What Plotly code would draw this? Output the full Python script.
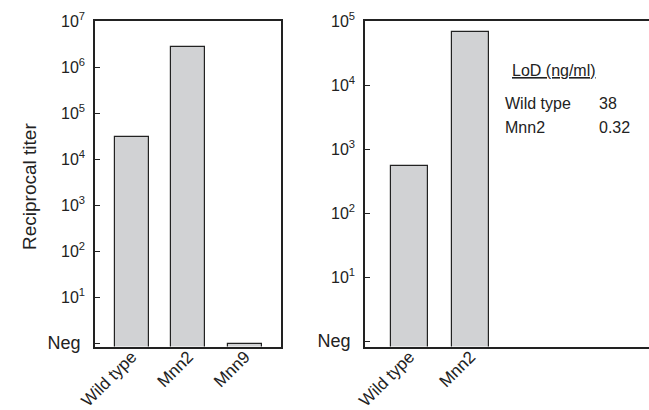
import plotly.graph_objects as go

# Reciprocal titers (Neg plotted at 1)
left_strains = ["Wild type", "Mnn2", "Mnn9"]
left_titers = [3.0e4, 2.7e6, 1.0]

right_strains = ["Wild type", "Mnn2"]
right_titers = [550, 6.7e4]

# Limit of detection table
lod_strains = ["Wild type", "Mnn2"]
lod_values = ["38", "0.32"]

NEG = "<span style='font-size:18px'>Neg</span>&nbsp;"
left_tickvals = [1, 1e1, 1e2, 1e3, 1e4, 1e5, 1e6, 1e7]
left_ticktext = [NEG, "10<sup>1</sup>", "10<sup>2</sup>", "10<sup>3</sup>",
                 "10<sup>4</sup>", "10<sup>5</sup>", "10<sup>6</sup>", "10<sup>7</sup>"]
right_tickvals = [1, 1e1, 1e2, 1e3, 1e4, 1e5]
right_ticktext = [NEG, "10<sup>1</sup>", "10<sup>2</sup>", "10<sup>3</sup>",
                  "10<sup>4</sup>", "10<sup>5</sup>"]

W, H = 649, 410
INK = "#222222"
BAR_FILL = "#d1d2d4"
FONT = "Arial, Liberation Sans, Helvetica, sans-serif"


def fx(p):
    return p / W


def fy(p):
    return 1 - p / H


fig = go.Figure()
fig.add_trace(go.Bar(x=left_strains, y=left_titers, width=0.6,
                     marker=dict(color=BAR_FILL, line=dict(color=INK, width=1.2)),
                     xaxis="x", yaxis="y", showlegend=False))
fig.add_trace(go.Bar(x=right_strains, y=right_titers, width=0.6,
                     marker=dict(color=BAR_FILL, line=dict(color=INK, width=1.2)),
                     xaxis="x2", yaxis="y2", showlegend=False))

line_common = dict(showline=True, linecolor=INK, linewidth=1.5, showgrid=False,
                   zeroline=False, automargin=False)
x_common = dict(ticks="", tickangle=-45, mirror=True, ticklabelstandoff=-8,
                tickfont=dict(family=FONT, size=17, color=INK), **line_common)
y_common = dict(type="log", ticks="inside", ticklen=5, tickwidth=1, tickcolor=INK,
                ticklabelstandoff=5,
                tickfont=dict(family=FONT, size=16, color=INK), **line_common)

fig.update_layout(
    width=W, height=H,
    margin=dict(l=0, r=0, t=0, b=0),
    paper_bgcolor="white", plot_bgcolor="white",
    font=dict(family=FONT, color=INK),
    bargap=0,
    xaxis=dict(domain=[fx(95), fx(281)], range=[-0.65, 2.64], anchor="y", **x_common),
    yaxis=dict(domain=[fy(346.5), fy(21)], range=[-0.065, 7],
               tickvals=left_tickvals, ticktext=left_ticktext,
               mirror=True, anchor="x", **y_common),
    xaxis2=dict(domain=[fx(365), 1.0], range=[-0.73, 3.93], anchor="y2", **x_common),
    yaxis2=dict(domain=[fy(346.5), fy(21)], range=[-0.08, 5],
                tickvals=right_tickvals, ticktext=right_ticktext,
                mirror=False, anchor="x2", **y_common),
)

annotations = [
    dict(text="Reciprocal titer", x=fx(30), y=fy(187), textangle=-90,
         font=dict(size=19, family=FONT, color=INK)),
    dict(text="<u>LoD (ng/ml)</u>", x=fx(510), y=fy(71), xanchor="left",
         font=dict(size=16, family=FONT, color=INK)),
]
row_y = [103, 127]
for name, val, yy in zip(lod_strains, lod_values, row_y):
    annotations.append(dict(text=name, x=fx(503), y=fy(yy), xanchor="left",
                            font=dict(size=16, family=FONT, color=INK)))
    annotations.append(dict(text=val, x=fx(597), y=fy(yy), xanchor="left",
                            font=dict(size=16, family=FONT, color=INK)))
for a in annotations:
    a.update(xref="paper", yref="paper", showarrow=False, yanchor="middle")
    a.setdefault("xanchor", "center")
fig.update_layout(annotations=annotations)

fig.write_html("out.html")
